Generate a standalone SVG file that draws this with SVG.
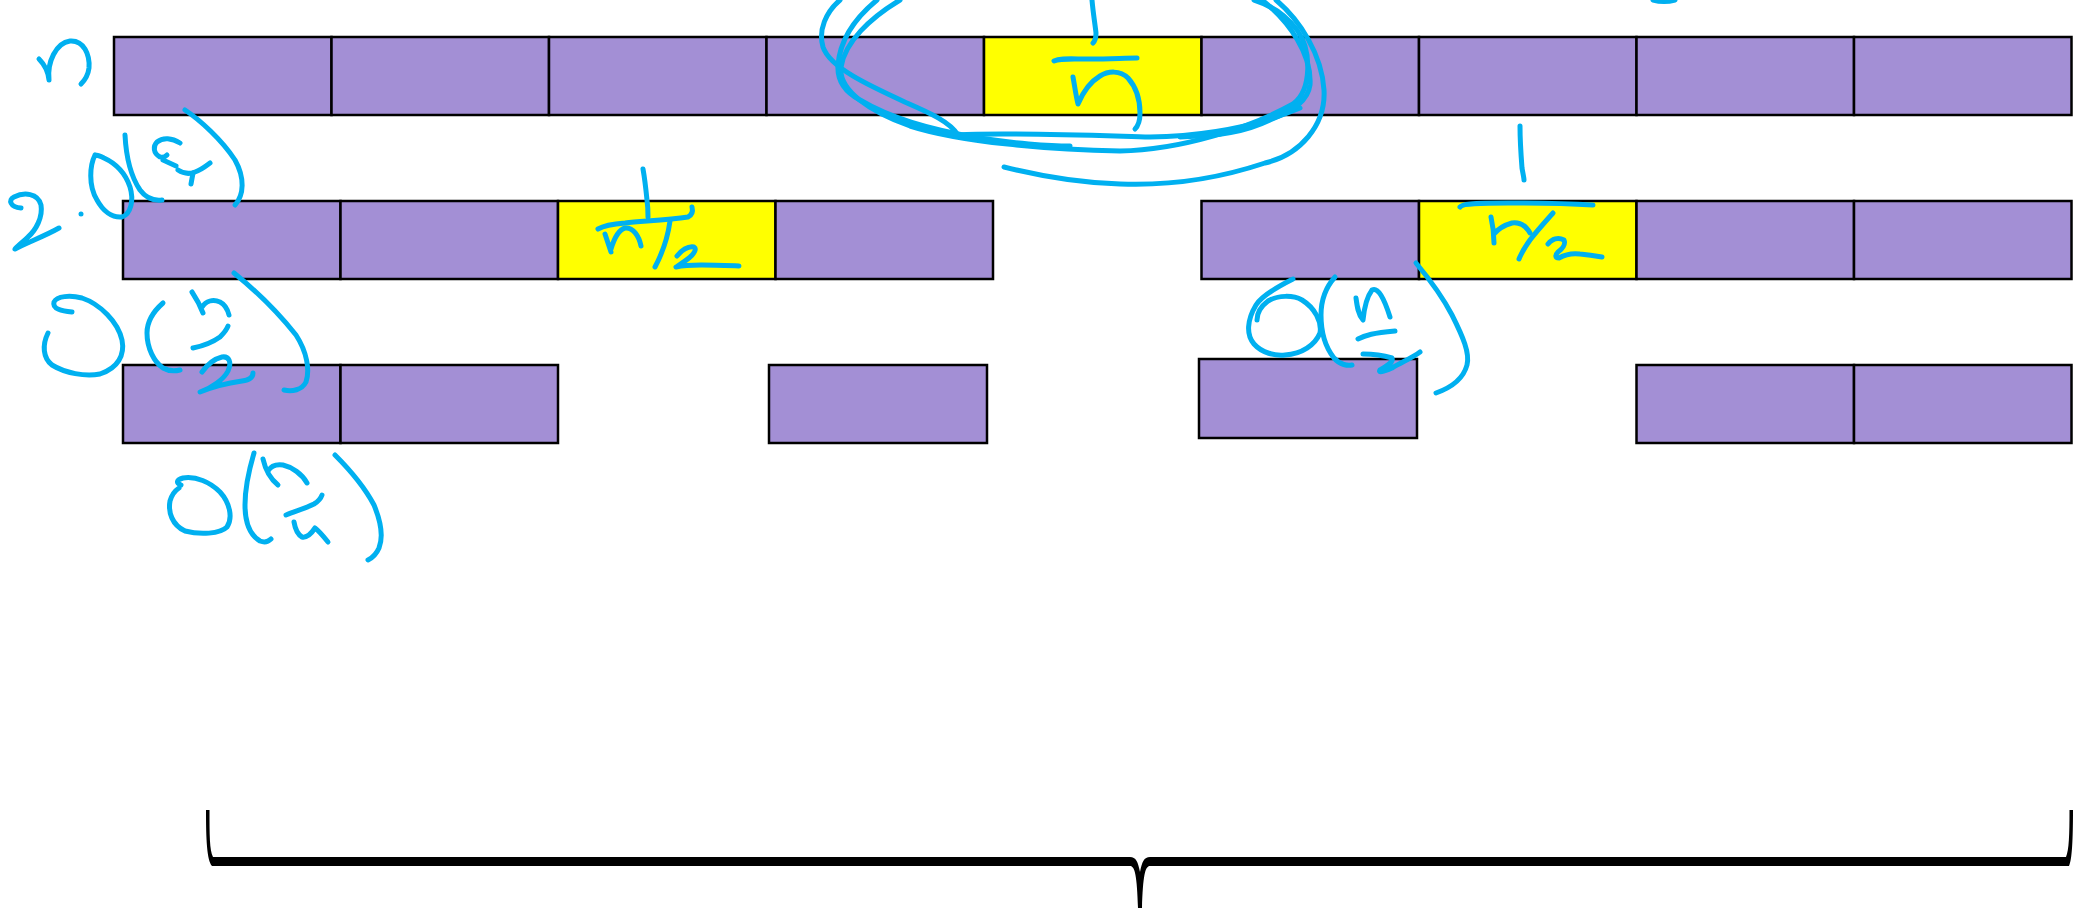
<svg xmlns="http://www.w3.org/2000/svg" width="2074" height="908" viewBox="0 0 2074 908">
<style>
.c{fill:#A38FD5;stroke:#000;stroke-width:2.5}
.y{fill:#FFFF00;stroke:#000;stroke-width:2.5}
.ink{fill:none;stroke:#00B0F0;stroke-width:5;stroke-linecap:round;stroke-linejoin:round}
</style>
<rect width="2074" height="908" fill="#fff"/>
<g id="row1">
<rect class="c" x="114" y="37" width="217.5" height="78"/>
<rect class="c" x="331.5" y="37" width="217.5" height="78"/>
<rect class="c" x="549" y="37" width="217.5" height="78"/>
<rect class="c" x="766.5" y="37" width="217.5" height="78"/>
<rect class="y" x="984" y="37" width="217.5" height="78"/>
<rect class="c" x="1201.5" y="37" width="217.5" height="78"/>
<rect class="c" x="1419" y="37" width="217.5" height="78"/>
<rect class="c" x="1636.5" y="37" width="217.5" height="78"/>
<rect class="c" x="1854" y="37" width="217.5" height="78"/>
</g>
<g id="row2-left">
<rect class="c" x="123" y="201" width="217.5" height="78"/>
<rect class="c" x="340.5" y="201" width="217.5" height="78"/>
<rect class="y" x="558" y="201" width="217.5" height="78"/>
<rect class="c" x="775.5" y="201" width="217.5" height="78"/>
</g>
<g id="row2-right">
<rect class="c" x="1201.5" y="201" width="217.5" height="78"/>
<rect class="y" x="1419" y="201" width="217.5" height="78"/>
<rect class="c" x="1636.5" y="201" width="217.5" height="78"/>
<rect class="c" x="1854" y="201" width="217.5" height="78"/>
</g>
<g id="row3-a">
<rect class="c" x="123" y="365" width="217.5" height="78"/>
<rect class="c" x="340.5" y="365" width="217.5" height="78"/>
</g>
<g id="row3-b">
<rect class="c" x="769" y="365" width="218" height="78"/>
</g>
<g id="row3-c">
<rect class="c" x="1199" y="359" width="218" height="79"/>
</g>
<g id="row3-d">
<rect class="c" x="1636.5" y="365" width="217.5" height="78"/>
<rect class="c" x="1854" y="365" width="217.5" height="78"/>
</g>
<g id="brace">
<path fill="#000" d="M206,810 L209.5,810 C209.5,835 209.5,850 213,857 L1130,857 C1136,857 1138,862 1140,872 C1142,862 1144,857 1150,857 L2066,857 C2069,850 2069.5,835 2069.5,810 L2073,810 C2073,840 2072,860 2069,866 L1150,866 C1145,866 1143,876 1142,908 L1138,908 C1137,876 1135,866 1130,866 L212,866 C207,860 206,840 206,810 Z"/>
</g>
<g id="annotations">
<path class="ink" d="M39,59 C44,64 48,70 49,80 C47,62 56,43 70,41 C84,40 90,55 89,68 C88,76 84,81 81,84"/>
<path class="ink" d="M21,208 C10,207 8,200 14,197 C24,192 38,193 41,205 C43,217 36,230 28,237 C22,243 16,247 15,249 C26,243 45,236 59,228"/>
<circle cx="81" cy="214" r="2.5" fill="#00B0F0"/>
<path class="ink" d="M95,155 C90,165 88,185 97,200 C103,211 112,218 122,217 C131,214 134,200 130,187 C126,175 117,164 104,158 C100,156 96,155 95,155"/>
<path class="ink" d="M125,135 C126,155 130,175 140,190 C146,198 154,201 162,200"/>
<path class="ink" d="M180,143 C172,138 163,137 157,142 C153,146 153,153 160,157 C163,158 165,157 167,155"/>
<path class="ink" d="M163,160 L176,166"/>
<path class="ink" d="M178,170 C184,174 190,174 195,172 C201,170 206,166 210,163"/>
<path class="ink" d="M193,173 L191,184"/>
<path class="ink" d="M185,110 C200,120 222,140 235,160 C245,178 244,195 235,205"/>
<path class="ink" d="M72,312 C62,311 52,309 54,302 C57,296 70,295 82,298 C100,304 118,322 122,340 C125,355 118,368 100,374 C85,377 65,373 52,365 C43,358 42,345 48,333"/>
<path class="ink" d="M163,303 C155,310 147,320 147,333 C147,348 154,362 163,368 C170,372 176,371 180,370"/>
<path class="ink" d="M192,292 C196,298 200,305 203,313 M202,307 C206,301 213,299 220,302 C226,305 228,311 229,315"/>
<path class="ink" d="M193,348 C203,346 213,342 220,337 C224,333 227,329 228,326"/>
<path class="ink" d="M202,372 C207,365 214,359 222,357 C229,356 232,362 228,371 C224,379 212,388 200,392 C212,387 228,383 242,381 C250,380 253,377 253,373"/>
<path class="ink" d="M234,273 C255,290 280,315 296,335 C307,352 310,370 306,382 C302,390 292,392 284,390"/>
<path class="ink" d="M181,485 C176,483 176,480 183,478 C196,476 210,482 220,492 C230,503 233,518 227,527 C220,534 200,535 185,531 C172,525 168,512 170,501 C172,494 176,490 179,488"/>
<path class="ink" d="M254,453 C249,470 245,488 245,505 C245,522 250,535 260,541 C265,543 269,541 271,539"/>
<path class="ink" d="M263,459 C265,468 268,477 278,485 M268,471 C271,466 276,464 283,465 C292,467 302,474 307,483"/>
<path class="ink" d="M286,515 C296,511 306,508 314,504 C319,501 321,498 322,495"/>
<path class="ink" d="M294,522 C295,528 297,534 302,537 C307,538 311,534 315,528 C319,531 324,537 328,542"/>
<path class="ink" d="M335,455 C350,470 365,488 374,505 C381,522 383,538 379,548 C376,555 372,558 368,560"/>
<path class="ink" d="M643,169 C645,180 646,190 647,200 C648,207 648,212 648,217"/>
<path class="ink" d="M598,229 C603,226 612,224 625,223 C645,221 668,220 688,217 C692,215 693,211 692,207"/>
<path class="ink" d="M605,234 C607,240 609,246 611,252 M611,249 C614,239 618,230 625,228 C633,227 639,236 641,246"/>
<path class="ink" d="M670,221 C668,236 664,250 655,267"/>
<path class="ink" d="M677,256 C682,250 688,246 694,247 C697,249 694,254 689,258 C684,262 679,265 676,267 C690,264 712,265 739,266"/>
<path class="ink" d="M1092,0 C1093,12 1095,24 1096,33 C1096,38 1095,41 1093,43"/>
<path class="ink" d="M1054,61 C1060,58 1070,59 1090,59 C1110,59 1125,58 1137,58"/>
<path class="ink" d="M1073,77 C1075,88 1076,96 1078,104 C1083,92 1090,82 1100,76 C1108,71 1120,70 1128,78 C1136,87 1140,100 1140,113 C1140,121 1138,126 1135,129"/>
<path class="ink" d="M840,0 C826,12 818,30 823,47 C830,68 870,86 907,103 C930,113 950,122 958,135"/>
<path class="ink" d="M900,0 C870,18 845,42 841,67 C838,90 870,112 910,126 C960,142 1050,150 1120,151 C1180,150 1250,128 1293,104 C1312,90 1312,50 1297,30 C1285,14 1270,5 1254,0"/>
<path class="ink" d="M1276,0 C1300,20 1322,55 1324,90 C1326,125 1300,155 1265,163 C1220,178 1170,186 1120,184 C1080,183 1040,176 1004,167"/>
<path class="ink" d="M958,135 C1000,132 1080,135 1150,137 C1210,136 1260,125 1300,108"/>
<path class="ink" d="M877,0 C855,18 840,40 838,65 C837,80 845,92 860,100 C890,118 930,130 980,138 C1010,143 1050,146 1070,146"/>
<path class="ink" d="M1262,0 C1290,22 1312,55 1310,85 C1308,100 1295,110 1270,120 C1245,132 1220,136 1180,137"/>
<path class="ink" d="M1653,0 Q1664,3 1675,0"/>
<path class="ink" d="M1520,126 C1520,140 1521,155 1522,168 C1523,174 1524,178 1524,180"/>
<path class="ink" d="M1460,207 C1462,204 1470,203 1508,203 C1550,203 1575,204 1593,205"/>
<path class="ink" d="M1491,217 C1493,226 1494,235 1494,243 M1494,234 C1498,229 1505,225 1512,223 C1520,222 1526,226 1530,233"/>
<path class="ink" d="M1553,213 C1545,222 1536,232 1530,240 C1525,247 1521,254 1519,259"/>
<path class="ink" d="M1548,244 C1552,239 1558,237 1564,240 C1566,244 1562,249 1558,252 C1555,255 1555,258 1559,258 C1566,254 1572,253 1580,254 C1590,255 1596,256 1602,257"/>
<path class="ink" d="M1293,279 C1283,284 1263,294 1256,305 C1247,320 1246,335 1254,344 C1262,353 1275,356 1285,355 C1302,354 1315,345 1320,333 C1322,322 1315,308 1302,300 C1293,295 1278,295 1268,301 C1260,307 1257,314 1257,320"/>
<path class="ink" d="M1335,277 C1326,287 1321,300 1321,315 C1321,332 1326,348 1334,358 C1340,365 1348,366 1352,365"/>
<path class="ink" d="M1356,298 C1357,306 1358,314 1363,320 C1364,310 1366,298 1372,290 C1378,287 1384,298 1390,317"/>
<path class="ink" d="M1358,339 C1366,335 1373,333 1395,331"/>
<path class="ink" d="M1363,354 C1372,354 1382,355 1392,358 C1394,362 1387,366 1380,370 C1378,373 1383,372 1392,368 C1402,362 1412,358 1420,352"/>
<path class="ink" d="M1416,263 C1426,275 1440,292 1452,315 C1463,337 1470,353 1467,365 C1463,380 1450,388 1436,393"/>
</g>
</svg>
